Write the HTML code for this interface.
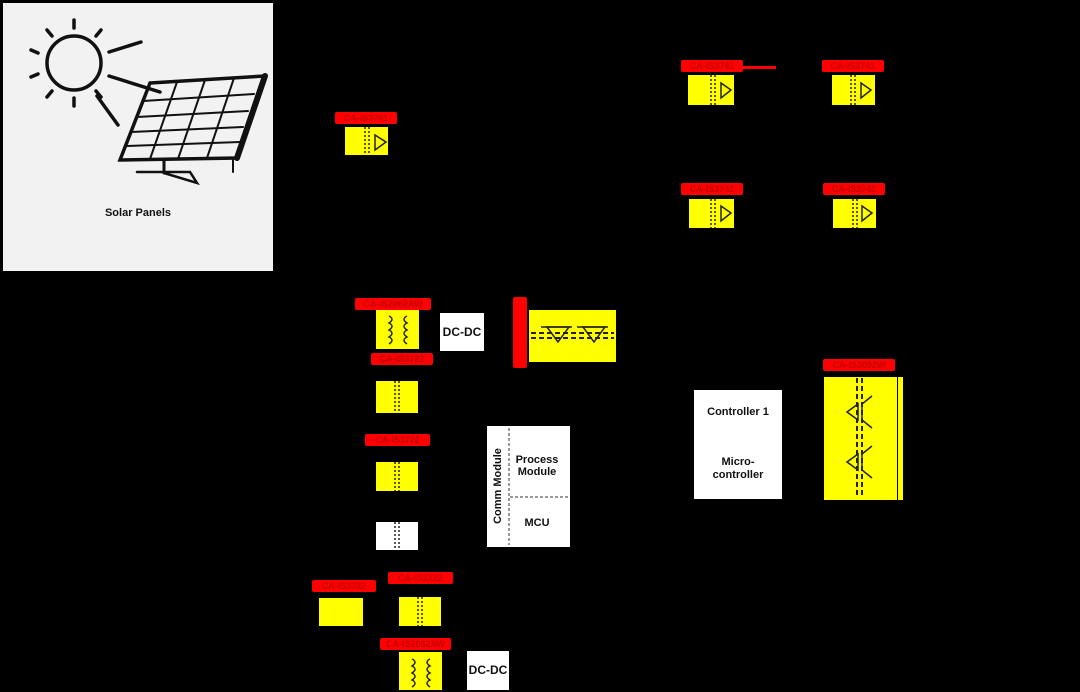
<!DOCTYPE html>
<html><head><meta charset="utf-8"><style>
html,body{margin:0;padding:0;background:#000;}
body{width:1080px;height:692px;position:relative;overflow:hidden;font-family:"Liberation Sans",sans-serif;}
.a{position:absolute;box-sizing:border-box;}
.y{background:#ffff00;}
.w{background:#fff;}
.r{background:#f00;color:#c00000;font-size:9px;font-weight:bold;line-height:12px;text-align:center;overflow:hidden;white-space:nowrap;border-radius:2px;}
.t{font-weight:bold;color:#111;text-align:center;}
</style></head><body>
<div class="a" style="left:3px;top:3px;width:270px;height:268px;background:#f2f2f2;"></div>
<svg class="a" style="left:0;top:0" width="1080" height="692">
 <g stroke="#111" stroke-width="3.5" fill="none" stroke-linecap="round">
  <circle cx="74" cy="63" r="27"/>
  <line x1="74" y1="20" x2="74" y2="28"/><line x1="74" y1="98" x2="74" y2="106"/>
  <line x1="47" y1="30" x2="52" y2="36"/><line x1="96" y1="36" x2="101" y2="30"/>
  <line x1="31" y1="50" x2="38" y2="53"/><line x1="31" y1="77" x2="38" y2="74"/>
  <line x1="47" y1="97" x2="52" y2="91"/><line x1="96" y1="91" x2="101" y2="97"/>
  <line x1="109" y1="52" x2="141" y2="42"/><line x1="109" y1="76" x2="160" y2="92"/>
  <line x1="97" y1="96" x2="118" y2="125"/>
  <polygon points="150,83 265,76 237,158 120,160" stroke-width="3.5"/>
  <line x1="265" y1="76" x2="237" y2="158" stroke-width="6"/>
  <line x1="143" y1="101" x2="254" y2="94" stroke-width="2"/>
  <line x1="137" y1="117" x2="248" y2="111" stroke-width="2"/>
  <line x1="131" y1="132" x2="243" y2="127" stroke-width="2"/>
  <line x1="126" y1="146" x2="240" y2="142" stroke-width="2"/>
  <line x1="177" y1="82" x2="150" y2="159" stroke-width="2"/>
  <line x1="205" y1="80" x2="178" y2="159" stroke-width="2"/>
  <line x1="234" y1="78" x2="207" y2="158" stroke-width="2"/>
  <line x1="164" y1="160" x2="164" y2="173" stroke-width="3"/>
  <line x1="233" y1="160" x2="233" y2="172" stroke-width="2"/>
  <polyline points="137,172 190,172 197,183 164,173" stroke-width="2.5"/>
 </g>
 <text x="138" y="216" font-family="Liberation Sans" font-size="11" font-weight="bold" text-anchor="middle" fill="#111">Solar Panels</text>
</svg>

<!-- red labels -->
<div class="a r" style="left:335px;top:112px;width:62px;height:12px;">CA-IS3741</div>
<div class="a r" style="left:681px;top:60px;width:62px;height:12px;">CA-IS3741</div>
<div class="a" style="left:740px;top:66px;width:36px;height:3px;background:#f00;"></div>
<div class="a r" style="left:822px;top:60px;width:62px;height:12px;">CA-IS3741</div>
<div class="a r" style="left:681px;top:183px;width:62px;height:12px;">CA-IS3741</div>
<div class="a r" style="left:823px;top:183px;width:62px;height:12px;">CA-IS3741</div>
<div class="a r" style="left:355px;top:298px;width:76px;height:12px;">CA-IS2062AW</div>
<div class="a r" style="left:371px;top:353px;width:62px;height:12px;">CA-IS3722</div>
<div class="a r" style="left:513px;top:297px;width:14px;height:71px;"></div>
<div class="a r" style="left:365px;top:434px;width:65px;height:12px;">CA-IS3722</div>
<div class="a r" style="left:823px;top:359px;width:72px;height:12px;">CA-IS3092W</div>
<div class="a r" style="left:312px;top:580px;width:64px;height:12px;">CA-IS3722</div>
<div class="a r" style="left:388px;top:572px;width:65px;height:12px;">CA-IS3722</div>
<div class="a r" style="left:380px;top:638px;width:71px;height:12px;">CA-IS2062AW</div>

<!-- yellow / white boxes -->
<div class="a y" style="left:345px;top:127px;width:43px;height:28px;"></div>
<div class="a y" style="left:688px;top:75px;width:46px;height:30px;"></div>
<div class="a y" style="left:832px;top:75px;width:43px;height:30px;"></div>
<div class="a y" style="left:689px;top:199px;width:45px;height:29px;"></div>
<div class="a y" style="left:833px;top:199px;width:43px;height:29px;"></div>
<div class="a y" style="left:376px;top:310px;width:43px;height:39px;"></div>
<div class="a w t" style="left:440px;top:313px;width:44px;height:38px;font-size:12px;line-height:38px;">DC-DC</div>
<div class="a y" style="left:376px;top:381px;width:42px;height:32px;"></div>
<div class="a y" style="left:529px;top:310px;width:87px;height:52px;"></div>
<div class="a y" style="left:376px;top:462px;width:42px;height:29px;"></div>
<div class="a w" style="left:376px;top:522px;width:42px;height:28px;"></div>
<div class="a w" style="left:487px;top:426px;width:83px;height:121px;"></div>
<div class="a w" style="left:694px;top:390px;width:88px;height:109px;"></div>
<div class="a y" style="left:824px;top:377px;width:73px;height:123px;"></div>
<div class="a y" style="left:898px;top:377px;width:5px;height:123px;"></div>
<div class="a y" style="left:319px;top:598px;width:44px;height:28px;"></div>
<div class="a y" style="left:399px;top:597px;width:42px;height:29px;"></div>
<div class="a y" style="left:399px;top:652px;width:43px;height:38px;"></div>
<div class="a w t" style="left:467px;top:651px;width:42px;height:39px;font-size:12px;line-height:39px;">DC-DC</div>

<div class="a t" style="left:694px;top:406px;width:88px;font-size:11px;">Controller 1</div>
<div class="a t" style="left:694px;top:456px;width:88px;font-size:11px;line-height:13px;">Micro-<br>controller</div>
<div class="a t" style="left:509px;top:454px;width:56px;font-size:11px;line-height:12px;">Process<br>Module</div>
<div class="a t" style="left:509px;top:517px;width:56px;font-size:11px;">MCU</div>
<div class="a t" style="left:453px;top:480px;width:90px;font-size:11px;transform:rotate(-90deg);">Comm Module</div>

<svg class="a" style="left:0;top:0" width="1080" height="692">
 <g stroke="#222" stroke-width="1.5" fill="none" stroke-dasharray="2,2">
  <line x1="365" y1="127" x2="365" y2="155"/><line x1="369" y1="127" x2="369" y2="155"/>
  <line x1="711" y1="75" x2="711" y2="105"/><line x1="715" y1="75" x2="715" y2="105"/>
  <line x1="851" y1="75" x2="851" y2="105"/><line x1="855" y1="75" x2="855" y2="105"/>
  <line x1="711" y1="199" x2="711" y2="228"/><line x1="715" y1="199" x2="715" y2="228"/>
  <line x1="853" y1="199" x2="853" y2="228"/><line x1="857" y1="199" x2="857" y2="228"/>
  <line x1="395" y1="381" x2="395" y2="413"/><line x1="399" y1="381" x2="399" y2="413"/>
  <line x1="395" y1="462" x2="395" y2="491"/><line x1="399" y1="462" x2="399" y2="491"/>
  <line x1="395" y1="522" x2="395" y2="550"/><line x1="399" y1="522" x2="399" y2="550"/>
  <line x1="418" y1="597" x2="418" y2="626"/><line x1="422" y1="597" x2="422" y2="626"/>
 </g>
 <g stroke="#222" stroke-width="2" fill="none" stroke-dasharray="5,3">
  <line x1="531" y1="333" x2="614" y2="333"/><line x1="531" y1="338" x2="614" y2="338"/>
  <line x1="857" y1="378" x2="857" y2="498"/><line x1="862" y1="378" x2="862" y2="498"/>
 </g>
 <g stroke="#333" stroke-width="1" fill="none" stroke-dasharray="3,2">
  <line x1="509" y1="428" x2="509" y2="545"/><line x1="510" y1="497" x2="568" y2="497"/>
 </g>
 <g stroke="#222" stroke-width="1.5" fill="none">
  <polygon points="375,135 375,150 386,142"/>
  <polygon points="721,83 721,98 731,90"/>
  <polygon points="861,83 861,98 871,90"/>
  <polygon points="721,206 721,221 731,213"/>
  <polygon points="862,206 862,221 872,213"/>
  <polygon points="547,327 569,327 558,342"/><polygon points="583,327 605,327 594,342"/>
  <line x1="541" y1="327" x2="572" y2="327"/><line x1="577" y1="327" x2="608" y2="327"/>
  <polygon points="847,412 858,404 858,420"/><polyline points="872,396 862,404 862,420 872,428"/>
  <polygon points="847,462 858,454 858,470"/><polyline points="872,446 862,454 862,470 872,478"/>
  <path d="M389,316 q6,3 0,7 q6,3 0,7 q6,3 0,7 q6,3 0,7"/>
  <path d="M407,316 q-6,3 0,7 q-6,3 0,7 q-6,3 0,7 q-6,3 0,7"/>
  <path d="M412,659 q6,3 0,7 q6,3 0,7 q6,3 0,7 q6,3 0,7"/>
  <path d="M430,659 q-6,3 0,7 q-6,3 0,7 q-6,3 0,7 q-6,3 0,7"/>
 </g>
</svg>
</body></html>
